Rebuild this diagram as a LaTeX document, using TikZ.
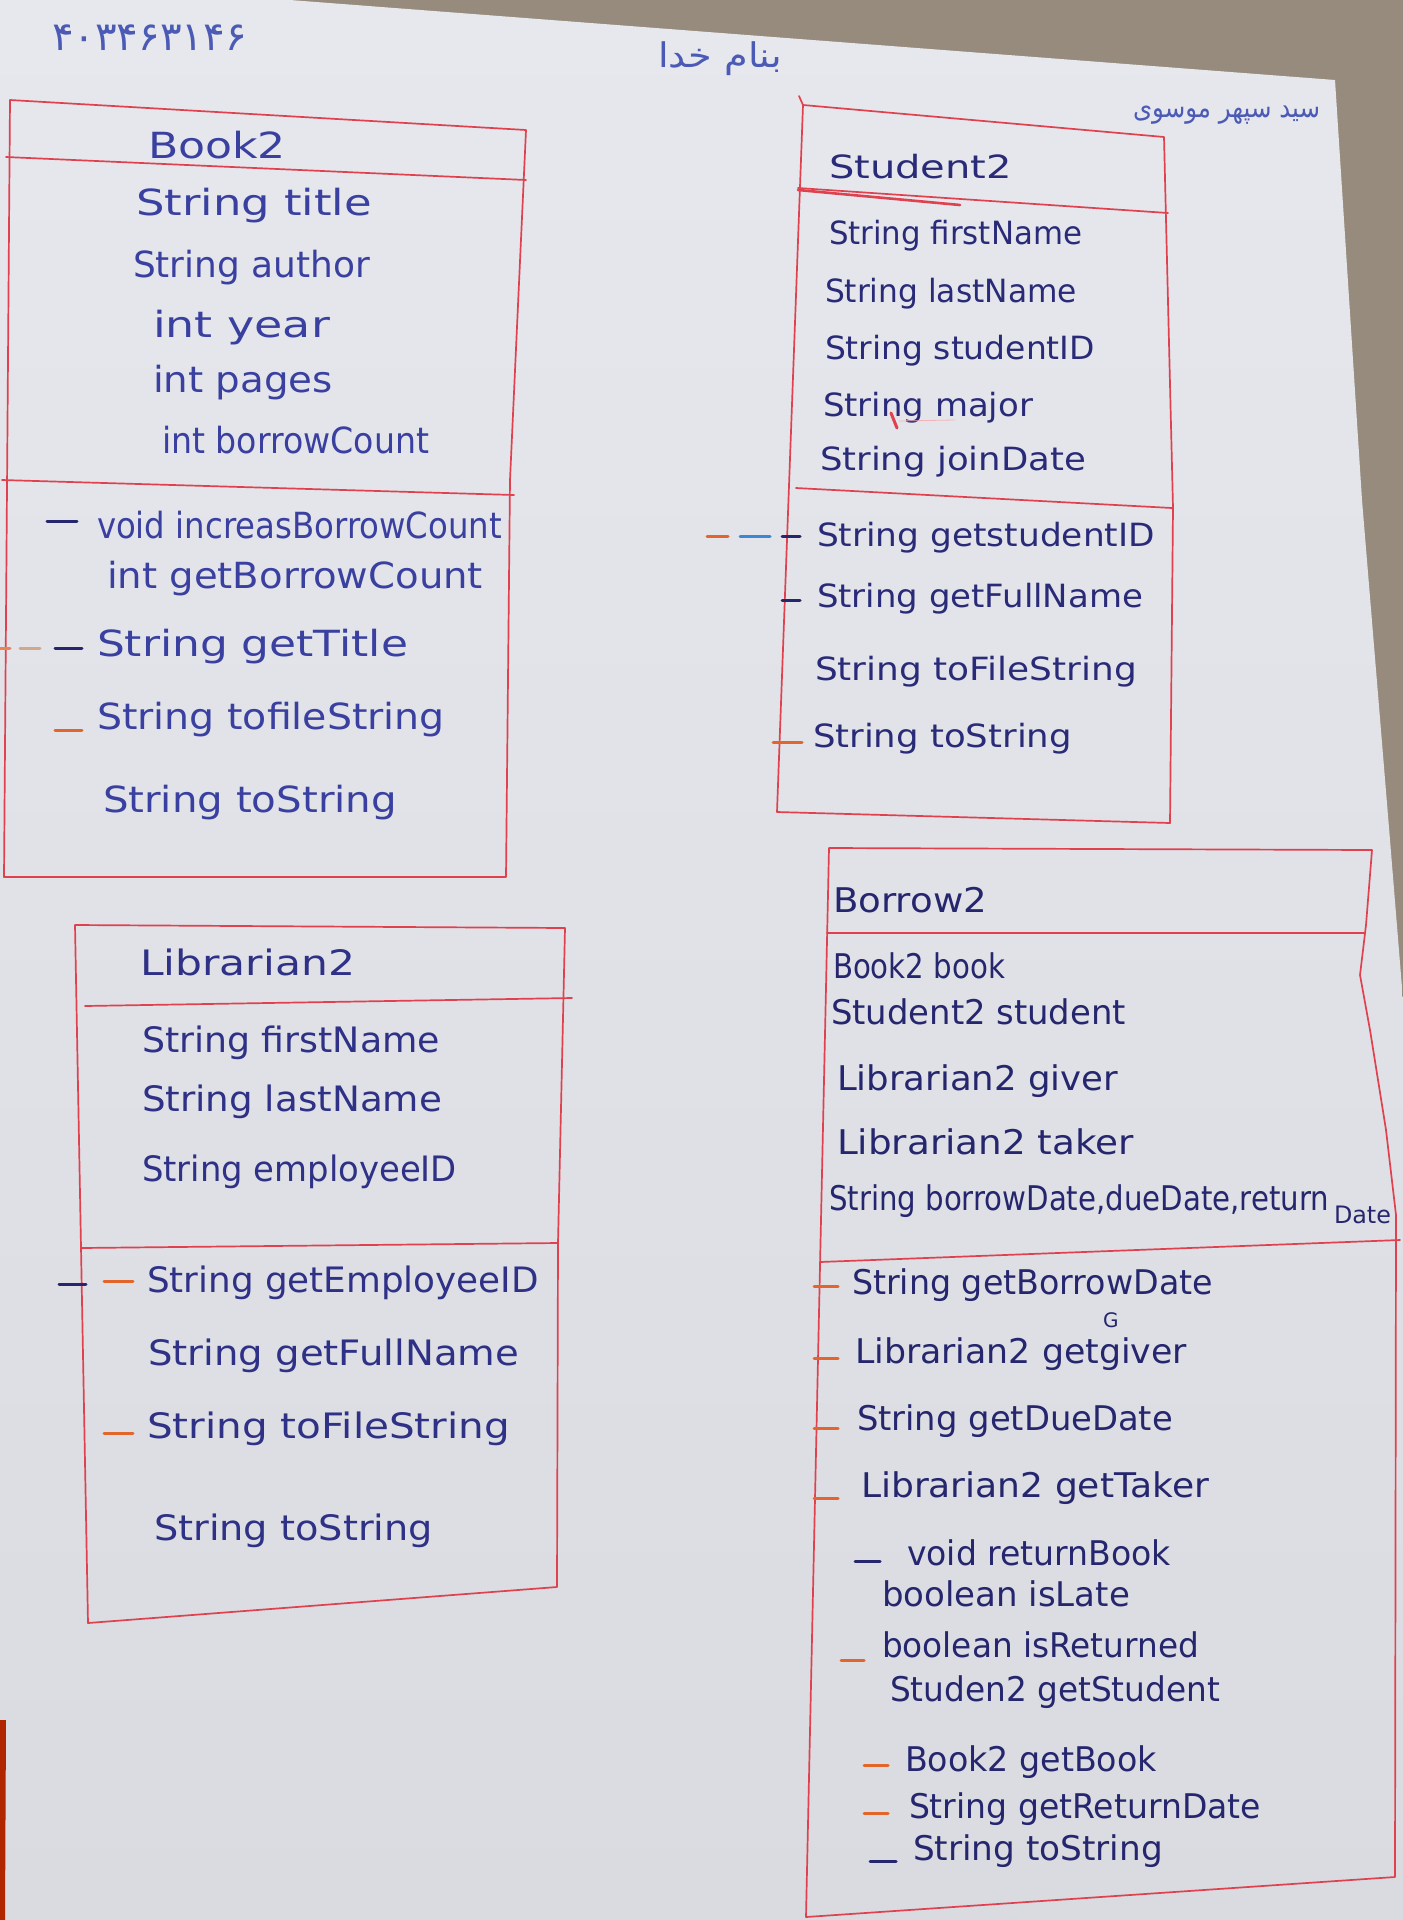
\documentclass[tikz,border=0pt]{standalone}
\usepackage{fontspec}
\usepackage{graphicx}
\setmainfont{DejaVu Sans}
\newfontfamily\fafont[Script=Arabic]{DejaVu Sans}
\TeXXeTstate=1

\definecolor{tablecol}{HTML}{968B7C}
\definecolor{paperT}{HTML}{E7E8ED}
\definecolor{paperB}{HTML}{D9DBE0}
\definecolor{redink}{HTML}{E0414E}
\definecolor{orangeink}{HTML}{E2662C}
\definecolor{blueink}{HTML}{3C86D6}
\definecolor{tanink}{HTML}{D2A88A}
\definecolor{inkA}{HTML}{3A40A0}
\definecolor{inkB}{HTML}{2A2B78}
\definecolor{inkC}{HTML}{2E3186}
\definecolor{inkD}{HTML}{25266E}
\definecolor{inkFa}{HTML}{4B5BB5}

% stretch a line of handwriting to a given width, keeping its height
\newcommand\hw[2]{\resizebox{#1pt}{\height}{#2}}

\begin{document}
\begin{tikzpicture}[x=1pt,y=-1pt,
  frame/.style={draw=redink, line width=1.7pt, line join=round, line cap=round},
  txt/.style={anchor=base west, inner sep=0pt, outer sep=0pt},
  bk/.style={txt, text=inkA, font=\fontsize{36}{40}\selectfont},
  st/.style={txt, text=inkB, font=\fontsize{32}{36}\selectfont},
  lb/.style={txt, text=inkC, font=\fontsize{35}{40}\selectfont},
  bw/.style={txt, text=inkD, font=\fontsize{34}{38}\selectfont},
  fa/.style={txt, text=inkFa},
  tick/.style={line width=3pt, line cap=round},
  darktick/.style={tick, draw=inkD},
  orangetick/.style={tick, draw=orangeink}]

\useasboundingbox (0,0) rectangle (1403,1920);

% desk and sheet of paper
\fill[tablecol] (0,0) rectangle (1403,1920);
\shade[top color=paperT, bottom color=paperB]
  (0,0) -- (290,0) -- (1335,80) -- (1362,500) -- (1390,840) -- (1403,1000)
  -- (1403,1920) -- (0,1920) -- cycle;
\fill[red!55!black!70!orange] (0,1720) -- (6,1720) -- (5,1920) -- (0,1920) -- cycle;

% header
\node[fa, font=\fafont\fontsize{40}{44}\selectfont] (num) at (52,50) {\hw{195}{۴۰۳۴۶۳۱۴۶}};
\node[fa, font=\fafont\fontsize{34}{40}\selectfont] (bism) at (658,67) {\hw{124}{\beginR بنام خدا\endR}};
\node[fa, font=\fafont\fontsize{28}{32}\selectfont] (name) at (1133,117) {\hw{187}{\beginR سید سپهر موسوی\endR}};

% ---------------- Book2 ----------------
\draw[frame] (10,100) -- (526,130) -- (510,480) -- (506,877) -- (4,877) -- cycle;
\draw[frame] (6,157) -- (526,180);
\draw[frame] (2,480) -- (514,495);
\node[bk] (bk0) at (148,158) {\hw{138}{Book2}};
\node[bk] (bk1) at (136,215) {\hw{236}{String title}};
\node[bk] (bk2) at (133,277) {\hw{237}{String author}};
\node[bk] (bk3) at (153,337) {\hw{177}{int year}};
\node[bk] (bk4) at (153,392) {\hw{180}{int pages}};
\node[bk] (bk5) at (162,453) {\hw{267}{int borrowCount}};
\node[bk] (bk6) at (97,538) {\hw{405}{void increasBorrowCount}};
\node[bk] (bk7) at (107,588) {\hw{376}{int getBorrowCount}};
\node[bk] (bk8) at (97,656) {\hw{311}{String getTitle}};
\node[bk] (bk9) at (97,729) {\hw{348}{String tofileString}};
\node[bk] (bk10) at (103,812) {\hw{294}{String toString}};
\draw[darktick] (47,521) -- (77,521);
\draw[tick, draw=orangeink!80] (0,648) -- (10,648);
\draw[tick, draw=tanink] (20,648) -- (40,648);
\draw[darktick] (55,648) -- (82,648);
\draw[orangetick] (55,730) -- (82,730);

% ---------------- Student2 ----------------
\draw[frame] (803,105) -- (1164,137) -- (1173,508) -- (1170,823) -- (777,812) -- cycle;
\draw[frame] (803,105) -- (799,96);
\draw[frame] (798,188) -- (1168,213);
\draw[frame, line width=2.6pt] (798,190) -- (960,205);
\draw[frame] (796,488) -- (1172,508);
\node[st] (st0) at (829,178) {\hw{183}{Student2}};
\node[st] (st1) at (829,244) {\hw{253}{String firstName}};
\node[st] (st2) at (825,302) {\hw{252}{String lastName}};
\node[st] (st3) at (825,359) {\hw{270}{String studentID}};
\node[st] (st4) at (823,416) {\hw{210}{String major}};
\node[st] (st5) at (820,470) {\hw{266}{String joinDate}};
\node[st] (st6) at (817,546) {\hw{338}{String getstudentID}};
\node[st] (st7) at (817,607) {\hw{326}{String getFullName}};
\node[st] (st8) at (815,680) {\hw{322}{String toFileString}};
\node[st] (st9) at (813,747) {\hw{259}{String toString}};
\draw[line width=3pt, draw=redink, line cap=round] (891,413) -- (897,428);
\draw[line width=0.8pt, draw=redink!40] (899,421) -- (955,420);
\draw[orangetick] (707,536) -- (728,536);
\draw[tick, draw=blueink] (740,536) -- (770,536);
\draw[darktick] (782,536) -- (800,536);
\draw[darktick] (782,600) -- (800,600);
\draw[orangetick] (773,742) -- (802,742);

% ---------------- Librarian2 ----------------
\draw[frame] (75,925) -- (565,928) -- (558,1243) -- (557,1587) -- (88,1623) -- cycle;
\draw[frame] (85,1006) -- (572,998);
\draw[frame] (81,1248) -- (558,1243);
\node[lb] (lb0) at (140,975) {\hw{215}{Librarian2}};
\node[lb] (lb1) at (142,1052) {\hw{298}{String firstName}};
\node[lb] (lb2) at (142,1111) {\hw{300}{String lastName}};
\node[lb] (lb3) at (142,1181) {\hw{315}{String employeeID}};
\node[lb] (lb4) at (147,1292) {\hw{392}{String getEmployeeID}};
\node[lb] (lb5) at (148,1365) {\hw{371}{String getFullName}};
\node[lb] (lb6) at (147,1438) {\hw{363}{String toFileString}};
\node[lb] (lb7) at (154,1540) {\hw{279}{String toString}};
\draw[darktick] (59,1284) -- (86,1284);
\draw[orangetick] (104,1281) -- (133,1281);
\draw[orangetick] (104,1433) -- (133,1433);

% ---------------- Borrow2 ----------------
\draw[frame] (829,848) -- (1372,850) -- (1366,925) -- (1360,975) -- (1370,1030)
  -- (1386,1130) -- (1396,1215) -- (1395,1877) -- (806,1917) -- cycle;
\draw[frame] (827,933) -- (1365,933);
\draw[frame] (820,1262) -- (1400,1240);
\node[bw] (bw0) at (833,912) {\hw{154}{Borrow2}};
\node[bw] (bw1) at (833,978) {\hw{172}{Book2 book}};
\node[bw] (bw2) at (831,1024) {\hw{295}{Student2 student}};
\node[bw] (bw3) at (837,1090) {\hw{281}{Librarian2 giver}};
\node[bw] (bw4) at (837,1154) {\hw{297}{Librarian2 taker}};
\node[bw] (bw5) at (829,1210) {\hw{500}{String borrowDate,dueDate,return}};
\node[bw, font=\fontsize{24}{28}\selectfont] (bw6) at (1334,1223) {\hw{57}{Date}};
\node[bw] (bw7) at (852,1294) {\hw{361}{String getBorrowDate}};
\node[bw] (bw8) at (855,1363) {\hw{332}{Librarian2 getgiver}};
\node[bw, font=\fontsize{20}{24}\selectfont] (bw8g) at (1103,1327) {G};
\node[bw] (bw9) at (857,1430) {\hw{316}{String getDueDate}};
\node[bw] (bw10) at (861,1497) {\hw{348}{Librarian2 getTaker}};
\node[bw] (bw11) at (907,1565) {\hw{264}{void returnBook}};
\node[bw] (bw12) at (882,1606) {\hw{248}{boolean isLate}};
\node[bw] (bw13) at (882,1657) {\hw{317}{boolean isReturned}};
\node[bw] (bw14) at (890,1701) {\hw{330}{Studen2 getStudent}};
\node[bw] (bw15) at (905,1771) {\hw{252}{Book2 getBook}};
\node[bw] (bw16) at (909,1818) {\hw{352}{String getReturnDate}};
\node[bw] (bw17) at (913,1860) {\hw{250}{String toString}};
\draw[orangetick] (814,1286) -- (838,1286);
\draw[orangetick] (814,1358) -- (838,1358);
\draw[orangetick] (814,1428) -- (838,1428);
\draw[orangetick] (814,1498) -- (838,1498);
\draw[darktick] (855,1561) -- (880,1561);
\draw[orangetick] (841,1660) -- (864,1660);
\draw[orangetick] (864,1765) -- (888,1765);
\draw[orangetick] (864,1813) -- (888,1813);
\draw[darktick] (870,1861) -- (896,1861);
\end{tikzpicture}
\end{document}
